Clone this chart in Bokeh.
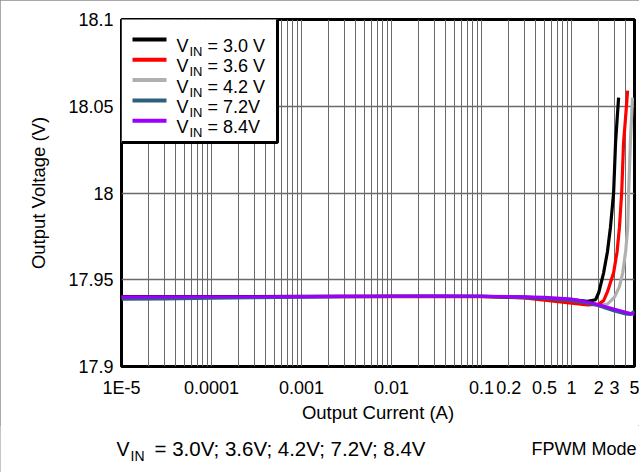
from bokeh.plotting import figure
from bokeh.layouts import column
from bokeh.models import (FixedTicker, Label, Arrow, BoxAnnotation)
from bokeh.embed import file_html
from bokeh.resources import INLINE

# ---- data: output voltage vs. load current for several input voltages ----
series_names = ["3.0 V", "3.6 V", "4.2 V", "7.2V", "8.4V"]
series_colors = ["#000000", "#ff0000", "#b0b0b0", "#2f5f7c", "#9a00ff"]

i_vin_3v0 = [1e-5, 1e-4, 1e-3, 1e-2, 0.1, 0.3, 1.0, 1.5, 1.85, 2.0, 2.27, 2.5, 2.7, 2.93, 3.08, 3.2, 3.33]
v_vin_3v0 = [17.9402, 17.9403, 17.9404, 17.9405, 17.9405, 17.9400, 17.9385, 17.9375, 17.9385, 17.9425,
             17.954, 17.966, 17.980, 18.000, 18.029, 18.042, 18.055]

i_vin_3v6 = [1e-5, 1e-4, 1e-3, 1e-2, 0.1, 0.3, 1.0, 1.5, 2.0, 2.27, 2.5, 2.93, 3.2, 3.4, 3.6, 3.78, 4.0, 4.19]
v_vin_3v6 = [17.9401, 17.9402, 17.9403, 17.9404, 17.9403, 17.9395, 17.9365, 17.9355, 17.9360, 17.938,
             17.943, 17.954, 17.966, 17.980, 18.000, 18.029, 18.045, 18.059]

i_vin_4v2 = [1e-5, 1e-4, 1e-3, 1e-2, 0.1, 0.3, 1.0, 1.5, 2.0, 2.5, 3.0, 3.4, 3.7, 4.0, 4.2, 4.3, 4.5, 4.75]
v_vin_4v2 = [17.9401, 17.9402, 17.9403, 17.9404, 17.9404, 17.9398, 17.9375, 17.9362, 17.9356, 17.936,
             17.940, 17.946, 17.954, 17.967, 17.980, 18.000, 18.029, 18.055]

i_vin_7v2 = [1e-5, 3e-5, 1e-4, 3e-4, 1e-3, 3e-3, 1e-2, 3e-2, 0.1, 0.2, 0.5, 1.0, 1.5, 2.0, 3.0, 4.0, 4.5, 5.0]
v_vin_7v2 = [17.9388, 17.9390, 17.9394, 17.9397, 17.9400, 17.9402, 17.9404, 17.9405, 17.9404, 17.9400,
             17.9393, 17.9380, 17.9365, 17.9350, 17.9320, 17.9303, 17.9300, 17.9320]

i_vin_8v4 = [1e-5, 3e-5, 1e-4, 3e-4, 1e-3, 3e-3, 1e-2, 3e-2, 0.1, 0.2, 0.5, 1.0, 1.5, 2.0, 3.0, 4.0, 5.0]
v_vin_8v4 = [17.9400, 17.9401, 17.9402, 17.9402, 17.9403, 17.9404, 17.9405, 17.9406, 17.9405, 17.9403,
             17.9398, 17.9388, 17.9372, 17.9356, 17.9330, 17.9312, 17.9300]

x_ticks = [1e-5, 1e-4, 1e-3, 1e-2, 0.1, 0.2, 0.5, 1, 2, 3, 5]
x_tick_labels = ["1E-5", "0.0001", "0.001", "0.01", "0.1", "0.2", "0.5", "1", "2", "3", "5"]
y_ticks = [17.9, 17.95, 18.0, 18.05, 18.1]
y_tick_labels = ["17.9", "17.95", "18", "18.05", "18.1"]

FONT = "Liberation Sans"
W = 639
H_MAIN, H_NOTE = 425, 47
BORDER_L, BORDER_R, BORDER_T = 121, 5, 19
FRAME_BOTTOM = 367
BORDER_B = H_MAIN - FRAME_BOTTOM

p = figure(width=W, height=H_MAIN, x_axis_type="log", x_range=(1e-5, 5), y_range=(17.9, 18.1),
           output_backend="svg", toolbar_location=None,
           min_border_left=BORDER_L, min_border_right=BORDER_R,
           min_border_top=BORDER_T, min_border_bottom=BORDER_B,
           background_fill_color="white", border_fill_color="white")

p.outline_line_color = "black"
p.outline_line_width = 3

# axes
for ax in (p.xaxis, p.yaxis):
    ax.axis_line_color = None
    ax.major_tick_line_color = None
    ax.minor_tick_line_color = None
    ax.major_tick_in = 0
    ax.major_tick_out = 0
    ax.minor_tick_in = 0
    ax.minor_tick_out = 0
    ax.major_label_text_font = FONT
    ax.major_label_text_font_size = "18px"
    ax.major_label_text_color = "black"
    ax.axis_label_text_font = FONT
    ax.axis_label_text_font_size = "18.5px"
    ax.axis_label_text_font_style = "normal"
    ax.axis_label_text_color = "black"

p.xaxis.ticker = FixedTicker(ticks=x_ticks)
p.xaxis.major_label_overrides = {t: s for t, s in zip(x_ticks, x_tick_labels)}
p.xaxis.axis_label = "Output Current (A)"
p.xaxis.major_label_standoff = 11
p.xaxis.axis_label_standoff = 1

p.yaxis.ticker = FixedTicker(ticks=y_ticks)
p.yaxis.major_label_overrides = {t: s for t, s in zip(y_ticks, y_tick_labels)}
p.yaxis.axis_label = "Output Voltage (V)"
p.yaxis.major_label_standoff = 8
p.yaxis.axis_label_standoff = 16

# grid: every 1..9 multiple per decade on x, 0.05 V steps on y
grid_x = [k * 10.0 ** e for e in range(-5, 1) for k in range(1, 10) if k * 10.0 ** e <= 5]
p.xgrid.ticker = FixedTicker(ticks=grid_x)
p.xgrid.grid_line_color = "#6a6a6a"
p.xgrid.grid_line_width = 1
p.ygrid.ticker = FixedTicker(ticks=[17.95, 18.0, 18.05])
p.ygrid.grid_line_color = "#6a6a6a"
p.ygrid.grid_line_width = 1.3

# curves (drawn so that the 8.4 V trace sits on top)
curves = [
    (i_vin_4v2, v_vin_4v2, series_colors[2]),
    (i_vin_3v6, v_vin_3v6, series_colors[1]),
    (i_vin_3v0, v_vin_3v0, series_colors[0]),
    (i_vin_7v2, v_vin_7v2, series_colors[3]),
    (i_vin_8v4, v_vin_8v4, series_colors[4]),
]
for xs, ys, c in curves:
    p.line(xs, ys, line_color=c, line_width=3.2)


# screen units are measured from the frame's bottom-left corner
def sx(x_px):
    return x_px - BORDER_L


def sy(y_px):
    return FRAME_BOTTOM - y_px


def screen_label(fig, x, y, text, size, **kw):
    fig.add_layout(Label(x=x, y=y, x_units="screen", y_units="screen", text=text,
                         text_font=FONT, text_font_size=size, text_color="black",
                         text_baseline="alphabetic", **kw))


# legend box
p.add_layout(BoxAnnotation(left=sx(120), right=sx(277), top=sy(18), bottom=sy(143),
                           left_units="screen", right_units="screen",
                           top_units="screen", bottom_units="screen",
                           fill_color="white", fill_alpha=1.0,
                           line_color="black", line_width=3, line_alpha=1.0))

for i, (name, color) in enumerate(zip(series_names, series_colors)):
    row = 40 + 20.3 * i
    p.add_layout(Arrow(end=None, x_start=sx(132), y_start=sy(row), x_end=sx(166), y_end=sy(row),
                       start_units="screen", end_units="screen",
                       line_color=color, line_width=4))
    screen_label(p, sx(176), sy(row + 6.5), "V", "18px")
    screen_label(p, sx(189), sy(row + 12), "IN", "13px")
    screen_label(p, sx(207), sy(row + 6.5), "= " + name, "18px")

# strip under the chart carrying the test-condition notes; its frame spans the whole strip
note = figure(width=W, height=H_NOTE, x_range=(0, W), y_range=(0, H_NOTE),
              output_backend="svg", toolbar_location=None,
              min_border_left=0, min_border_right=0, min_border_top=0, min_border_bottom=0,
              background_fill_color="white", border_fill_color="white")
note.axis.visible = False
note.grid.visible = False
note.outline_line_color = None
note.frame_align = False


def note_y(y_px):
    return H_MAIN + H_NOTE - y_px


screen_label(note, 116, note_y(448), "V", "19.5px")
screen_label(note, 130, note_y(455), "IN", "14px")
screen_label(note, 154, note_y(448), "= 3.0V; 3.6V; 4.2V; 7.2V; 8.4V", "20.5px")
screen_label(note, 636, note_y(448), "FPWM Mode", "18px", text_align="right")

page = column(p, note, spacing=0)
page.styles = {"outline": "1px solid #8c8c8c", "outline-offset": "-1px"}

open("out.html", "w").write(file_html(page, INLINE))
